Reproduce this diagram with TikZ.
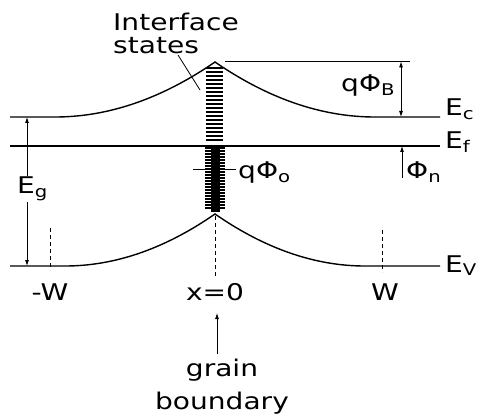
\documentclass[tikz,border=0pt]{standalone}
\usepackage{fontspec}
\setmainfont{DejaVu Sans}[FakeStretch=1.22]
\usetikzlibrary{arrows.meta}

\begin{document}
\begin{tikzpicture}[x=1pt, y=-1pt,
  font=\fontsize{23}{23}\selectfont,
  band/.style={line width=1.4pt},
  dim/.style={line width=0.8pt, {Latex[length=6pt,width=4pt]}-{Latex[length=6pt,width=4pt]}},
  pointer/.style={line width=0.8pt, -{Latex[length=6pt,width=4pt]}},
  edgeline/.style={line width=1pt, dash pattern=on 4pt off 3pt},
  lbl/.style={inner sep=0pt, anchor=base west}]
\useasboundingbox (0,0) rectangle (478,419);

% bands
\draw[band] plot[domain=10:440, samples=173] (\x, {117-55*max(0,1-abs(\x-215)/160)^2});
\draw[band] (10,146) -- (440,146);
\draw[band] plot[domain=10:440, samples=173] (\x, {266-52*max(0,1-abs(\x-215)/150)^2});
\draw[band] (225,61.5) -- (410,61.5);

% interface states
\foreach \y in {68,72,...,142} \draw[line width=1.2pt] (206,\y) -- (223,\y);
\fill (210.5,145) rectangle (219.5,212);
\foreach \y in {148,151,...,209} \draw[line width=1.2pt] (205,\y) -- (225,\y);
\draw[line width=1pt] (193,170) -- (236,170);

% depletion edges and boundary
\draw[edgeline] (50,228) -- (50,270);
\draw[edgeline] (215,216) -- (215,277);
\draw[edgeline] (382,230) -- (382,272);

% dimension arrows
\coordinate (ecL) at (27,117);
\coordinate (evL) at (27,266);
\coordinate (topR) at (401,61.5);
\coordinate (ecR) at (401,117);
\coordinate (efR) at (402,146);
\coordinate (phinTail) at (402,178);
\draw[dim] (ecL) -- (evL);
\draw[dim] (topR) -- (ecR);
\draw[pointer] (phinTail) -- (efR);

% labels
\node[lbl, fill=white, inner sep=1pt] (Eg) at (16,194) {E\textsubscript{g}};
\node[lbl] (Ec) at (445,116) {E\textsubscript{c}};
\node[lbl] (Ef) at (445,149) {E\textsubscript{f}};
\node[lbl] (Ev) at (445,272) {E\textsubscript{V}};
\node[lbl] (qphiB) at (341,92) {qΦ\textsubscript{B}};
\node[lbl] (phin) at (406,179) {Φ\textsubscript{n}};
\node[lbl] (qphio) at (238,179) {qΦ\textsubscript{o}};
\node[inner sep=0pt, anchor=base] (mW) at (50,300) {-W};
\node[inner sep=0pt, anchor=base] (x0) at (215,300) {x=0};
\node[inner sep=0pt, anchor=base] (pW) at (385,300) {W};
\node[inner sep=0pt, anchor=north west, align=left] (ifs) at (113,13) {Interface\\states};
\coordinate (ifsTip) at (200,90);
\draw[line width=0.8pt] (178,55) -- (ifsTip);
\node[inner sep=0pt, anchor=north, align=center] (gb) at (222,359) {grain\\[10pt]boundary};
\coordinate (gbTip) at (217,313);
\draw[pointer] (gbTip |- 0,354) -- (gbTip);
\end{tikzpicture}
\end{document}
